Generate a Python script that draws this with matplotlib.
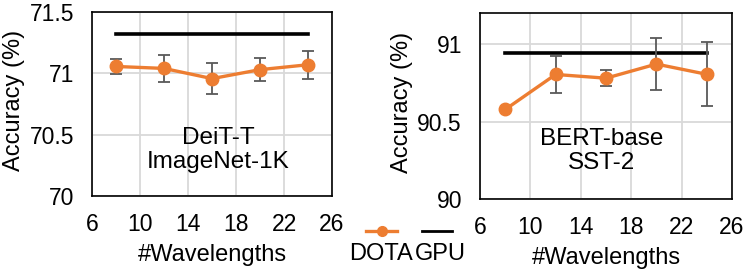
import matplotlib
matplotlib.use("Agg")
import matplotlib.pyplot as plt
from matplotlib.lines import Line2D

plt.rcParams["font.family"] = ["Liberation Sans", "DejaVu Sans"]

ORANGE = "#ED7D31"
GRID = "#D9D9D9"
ERR = "#595959"

wavelengths = [8, 12, 16, 20, 24]

# DeiT-T / ImageNet-1K
deit_acc = [71.056, 71.04, 70.957, 71.03, 71.07]
deit_err = [0.064, 0.107, 0.128, 0.096, 0.115]
deit_gpu = 71.32

# BERT-base / SST-2
bert_acc = [90.579, 90.805, 90.781, 90.872, 90.806]
bert_err = [0.0, 0.122, 0.05, 0.17, 0.206]
bert_gpu = 90.943

x_ticks = [6, 10, 14, 18, 22, 26]

panels = [
    dict(rect=[0.1232, 0.2714, 0.3213, 0.684], acc=deit_acc, err=deit_err,
         gpu=deit_gpu, ylim=(70, 71.5), yticks=[70, 70.5, 71, 71.5],
         ylabels=["70", "70.5", "71", "71.5"], note="DeiT-T\nImageNet-1K",
         note_xy=(0.525, 0.25), ylab_x=-0.279),
    dict(rect=[0.6426, 0.2593, 0.3373, 0.6915], acc=bert_acc, err=bert_err,
         gpu=bert_gpu, ylim=(90, 91.2), yticks=[90, 90.5, 91],
         ylabels=["90", "90.5", "91"], note="BERT-base\nSST-2",
         note_xy=(0.483, 0.26), ylab_x=-0.266),
]

fig = plt.figure(figsize=(7.47, 2.69), dpi=100)

for p in panels:
    ax = fig.add_axes(p["rect"])
    ax.set_xlim(6, 26)
    ax.set_ylim(*p["ylim"])
    ax.set_xticks(x_ticks)
    ax.set_yticks(p["yticks"])
    ax.set_yticklabels(p["ylabels"])
    ax.grid(True, color=GRID, linewidth=1.3)
    ax.set_axisbelow(True)
    for s in ax.spines.values():
        s.set_linewidth(1.2)
        s.set_color("black")
    ax.tick_params(length=0, labelsize=16.5)
    ax.tick_params(axis="y", pad=13)
    ax.tick_params(axis="x", pad=12)

    ax.plot([wavelengths[0], wavelengths[-1]], [p["gpu"], p["gpu"]],
            color="black", linewidth=2.6, zorder=3)
    ax.errorbar(wavelengths, p["acc"], yerr=p["err"], fmt="none", ecolor=ERR,
                elinewidth=1.3, capsize=4, capthick=1.3, zorder=4)
    ax.plot(wavelengths, p["acc"], color=ORANGE, linewidth=2.4,
            marker="o", markersize=9, zorder=5)

    ax.text(p["note_xy"][0], p["note_xy"][1], p["note"], transform=ax.transAxes,
            ha="center", va="center", fontsize=17.5, linespacing=1.1)
    ax.set_xlabel("#Wavelengths", fontsize=17, labelpad=6)
    ax.set_ylabel("Accuracy (%)", fontsize=17)
    ax.yaxis.set_label_coords(p["ylab_x"], 0.52)

# legend: handles on top, names underneath
legend_handles = [
    Line2D([], [], color=ORANGE, linewidth=2.4, marker="o", markersize=7),
    Line2D([], [], color="black", linewidth=2.0),
]
fig.legend(legend_handles, ["", ""], ncol=2, loc="center",
           bbox_to_anchor=(0.548, 0.137), frameon=False, handlelength=2.2,
           columnspacing=1.8, handletextpad=0.0)
fig.text(0.51, 0.055, "DOTA", ha="center", va="center", fontsize=17)
fig.text(0.59, 0.055, "GPU", ha="center", va="center", fontsize=17)

fig.savefig("out.png", dpi=100)
